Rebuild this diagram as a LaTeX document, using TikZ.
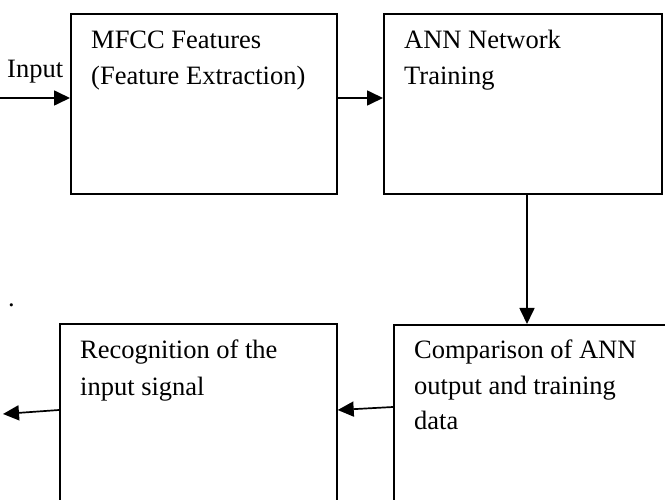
\documentclass[tikz,border=0pt]{standalone}
\usepackage{fontspec}
\setmainfont{Liberation Serif}
\usetikzlibrary{arrows.meta}
\begin{document}
\begin{tikzpicture}[x=1pt,y=-1pt,
  stage/.style={draw=black, line width=1.7pt, rectangle, inner sep=0pt, anchor=north west},
  caption/.style={font=\fontsize{26.5}{36}\selectfont, inner sep=0pt, anchor=base west, align=flush left, text width=#1},
  caption/.default=260pt,
  arr/.style={line width=1.7pt, -{Triangle[length=16pt,width=15pt]}}]
\useasboundingbox (0,0) rectangle (665,500);
\clip (0,0) rectangle (665,500);
% processing stages
\node[stage, minimum width=266pt, minimum height=180pt] (mfcc) at (70,13) {};
\node[stage, minimum width=278pt, minimum height=180pt] (ann) at (383,13) {};
\node[stage, minimum width=300pt, minimum height=200pt] (cmp) at (393,324) {};
\node[stage, minimum width=277pt, minimum height=200pt] (rec) at (59,323) {};
% stage captions
\node[caption] (mfcc-t) at (91,49) {MFCC Features\\(Feature Extraction)};
\node[caption] (ann-t) at (404,49) {ANN Network\\Training};
\node[caption] (cmp-t) at (414,358) {Comparison of ANN\\output and training\\data};
\node[caption] (rec-t) at (80,359) {Recognition of the\\input signal};
\node[caption=80pt] (in-t) at (7,78) {Input};
\node[caption=20pt] (dot) at (8,306) {.};
% free ends
\coordinate (in) at (0,98);
\coordinate (out) at (3,414);
% flow
\draw[arr] (in) -- ([yshift=-85pt]mfcc.north west);
\draw[arr] ([yshift=-85pt]mfcc.north east) -- ([yshift=-85pt]ann.north west);
\draw[arr] ([xshift=144pt]ann.south west) -- ([xshift=134pt]cmp.north west);
\draw[arr] ([yshift=-83pt]cmp.north west) -- ([yshift=-87pt]rec.north east);
\draw[arr] ([yshift=-87pt]rec.north west) -- (out);
\end{tikzpicture}
\end{document}
